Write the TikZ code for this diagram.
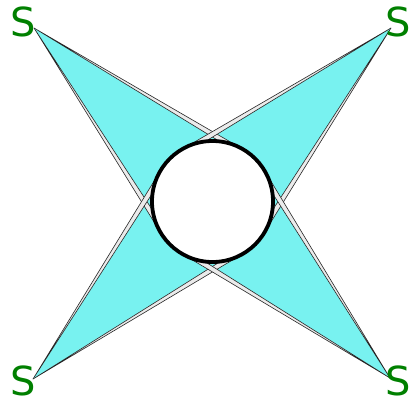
\documentclass[tikz,border=0pt]{standalone}
\usepackage{fontspec}
\usetikzlibrary{calc}
\definecolor{conecyan}{RGB}{120,242,240}
\definecolor{labgreen}{RGB}{0,128,0}

\begin{document}
\begin{tikzpicture}[x=1pt,y=-1pt]
  \tikzstyle{disc}=[circle,inner sep=0pt,outer sep=0pt]
  \tikzstyle{cone}=[fill=conecyan]
  \tikzstyle{rim}=[draw=black!85,line width=0.6pt,fill=black!8,line join=round]
  \tikzstyle{lab}=[inner sep=0pt,text=labgreen,font=\fontspec{DejaVu Sans}\fontsize{40}{40}\selectfont]
  \useasboundingbox (0,0) rectangle (411,405) ;
  \node [disc,minimum size=121pt] (ring) at (212.5,201.5) {} ;
  \node [disc,minimum size=110pt] (core) at (212.5,201.5) {} ;
  \coordinate (nw) at (34,28) ;
  \coordinate (ne) at (391,28) ;
  \coordinate (sw) at (33,379) ;
  \coordinate (se) at (390,378) ;
  \path [cone] (nw) -- (tangent cs:node=core,point={(nw)},solution=1) -- (tangent cs:node=core,point={(nw)},solution=2) -- cycle ;
  \path [cone] (ne) -- (tangent cs:node=core,point={(ne)},solution=1) -- (tangent cs:node=core,point={(ne)},solution=2) -- cycle ;
  \path [cone] (sw) -- (tangent cs:node=core,point={(sw)},solution=1) -- (tangent cs:node=core,point={(sw)},solution=2) -- cycle ;
  \path [cone] (se) -- (tangent cs:node=core,point={(se)},solution=1) -- (tangent cs:node=core,point={(se)},solution=2) -- cycle ;
  \path [rim] (nw) -- (tangent cs:node=ring,point={(nw)},solution=1) -- (tangent cs:node=core,point={(nw)},solution=1) -- cycle ;
  \path [rim] (nw) -- (tangent cs:node=ring,point={(nw)},solution=2) -- (tangent cs:node=core,point={(nw)},solution=2) -- cycle ;
  \path [rim] (ne) -- (tangent cs:node=ring,point={(ne)},solution=1) -- (tangent cs:node=core,point={(ne)},solution=1) -- cycle ;
  \path [rim] (ne) -- (tangent cs:node=ring,point={(ne)},solution=2) -- (tangent cs:node=core,point={(ne)},solution=2) -- cycle ;
  \path [rim] (sw) -- (tangent cs:node=ring,point={(sw)},solution=1) -- (tangent cs:node=core,point={(sw)},solution=1) -- cycle ;
  \path [rim] (sw) -- (tangent cs:node=ring,point={(sw)},solution=2) -- (tangent cs:node=core,point={(sw)},solution=2) -- cycle ;
  \path [rim] (se) -- (tangent cs:node=ring,point={(se)},solution=1) -- (tangent cs:node=core,point={(se)},solution=1) -- cycle ;
  \path [rim] (se) -- (tangent cs:node=ring,point={(se)},solution=2) -- (tangent cs:node=core,point={(se)},solution=2) -- cycle ;
  \draw [fill=white,line width=3.8pt] (ring.center) circle [radius=60.5pt] ;
  \node [lab] (snw) at (23,22) {S} ;
  \node [lab] (sne) at (398,22) {S} ;
  \node [lab] (ssw) at (23,381) {S} ;
  \node [lab] (sse) at (398,381) {S} ;
\end{tikzpicture}
\end{document}
